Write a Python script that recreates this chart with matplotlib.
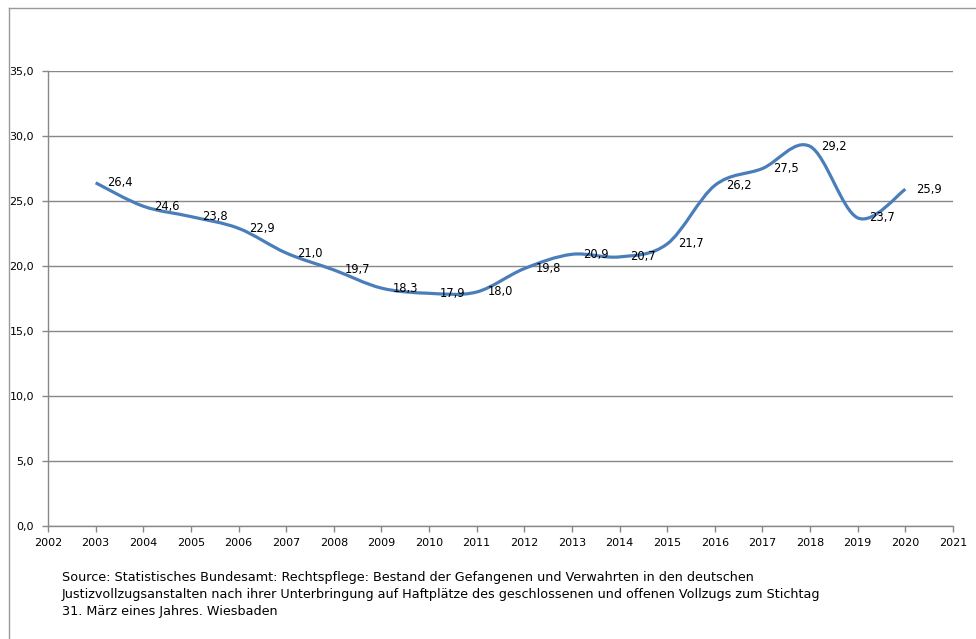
import numpy as np
import matplotlib.pyplot as plt
from matplotlib.path import Path
from matplotlib.patches import PathPatch
from matplotlib.lines import Line2D

years = [2003, 2004, 2005, 2006, 2007, 2008, 2009, 2010, 2011,
         2012, 2013, 2014, 2015, 2016, 2017, 2018, 2019, 2020]
values = [26.4, 24.6, 23.8, 22.9, 21.0, 19.7, 18.3, 17.9, 18.0,
          19.8, 20.9, 20.7, 21.7, 26.2, 27.5, 29.2, 23.7, 25.9]
yticks = [0, 5, 10, 15, 20, 25, 30, 35]
xticks = list(range(2002, 2022))
source = ("Source: Statistisches Bundesamt: Rechtspflege: Bestand der Gefangenen und Verwahrten in den deutschen\n"
          "Justizvollzugsanstalten nach ihrer Unterbringung auf Haftplätze des geschlossenen und offenen Vollzugs zum Stichtag\n"
          "31. März eines Jahres. Wiesbaden")

plt.rcParams['font.family'] = ['DejaVu Sans']
grey = '#888888'
blue = '#4A7EBB'

fig = plt.figure(figsize=(9.76, 6.39), dpi=100)
W, H = 976, 639
ax = fig.add_axes([48 / W, (H - 526) / H, (953 - 48) / W, (526 - 71) / H])

# smoothed line like Excel: Catmull-Rom segments as cubic Bezier curves
pts = np.column_stack([years, values]).astype(float)
ext = np.vstack([pts[0], pts, pts[-1]])
verts = [tuple(pts[0])]
codes = [Path.MOVETO]
for i in range(len(pts) - 1):
    p0, p1, p2, p3 = ext[i], ext[i + 1], ext[i + 2], ext[i + 3]
    c1 = p1 + (p2 - p0) / 6
    c2 = p2 - (p3 - p1) / 6
    verts += [tuple(c1), tuple(c2), tuple(p2)]
    codes += [Path.CURVE4] * 3
ax.add_patch(PathPatch(Path(verts, codes), facecolor='none', edgecolor=blue,
                       lw=2.3, capstyle='butt', zorder=3))

for x, y in zip(years, values):
    ax.annotate(f"{y:.1f}".replace('.', ','), (x, y), xytext=(11, 0),
                textcoords='offset pixels', ha='left', va='center',
                fontsize=8.3, color='black', zorder=4)

ax.set_xlim(2002, 2021)
ax.set_ylim(0, 35)
ax.set_xticks(xticks)
ax.set_yticks(yticks)
ax.set_yticklabels([f"{v:.1f}".replace('.', ',') for v in yticks])
ax.grid(axis='y', color=grey, lw=1)
ax.set_axisbelow(True)
for s in ['top', 'right']:
    ax.spines[s].set_visible(False)
for s in ['left', 'bottom']:
    ax.spines[s].set_color(grey)
    ax.spines[s].set_linewidth(1)
ax.tick_params(axis='both', colors=grey, labelcolor='black', labelsize=8,
               length=4, width=1)
ax.tick_params(axis='x', pad=5)
ax.tick_params(axis='y', pad=6)

fig.text(62 / W, 1 - 571 / H, source, fontsize=9.2, va='top', ha='left',
         linespacing=1.42)

# outer chart frame
fig.add_artist(Line2D([9 / W, 1], [1 - 8 / H, 1 - 8 / H], color='#999999', lw=1))
fig.add_artist(Line2D([9 / W, 9 / W], [0, 1 - 8 / H], color='#999999', lw=1))

fig.savefig('out.png', dpi=100)
